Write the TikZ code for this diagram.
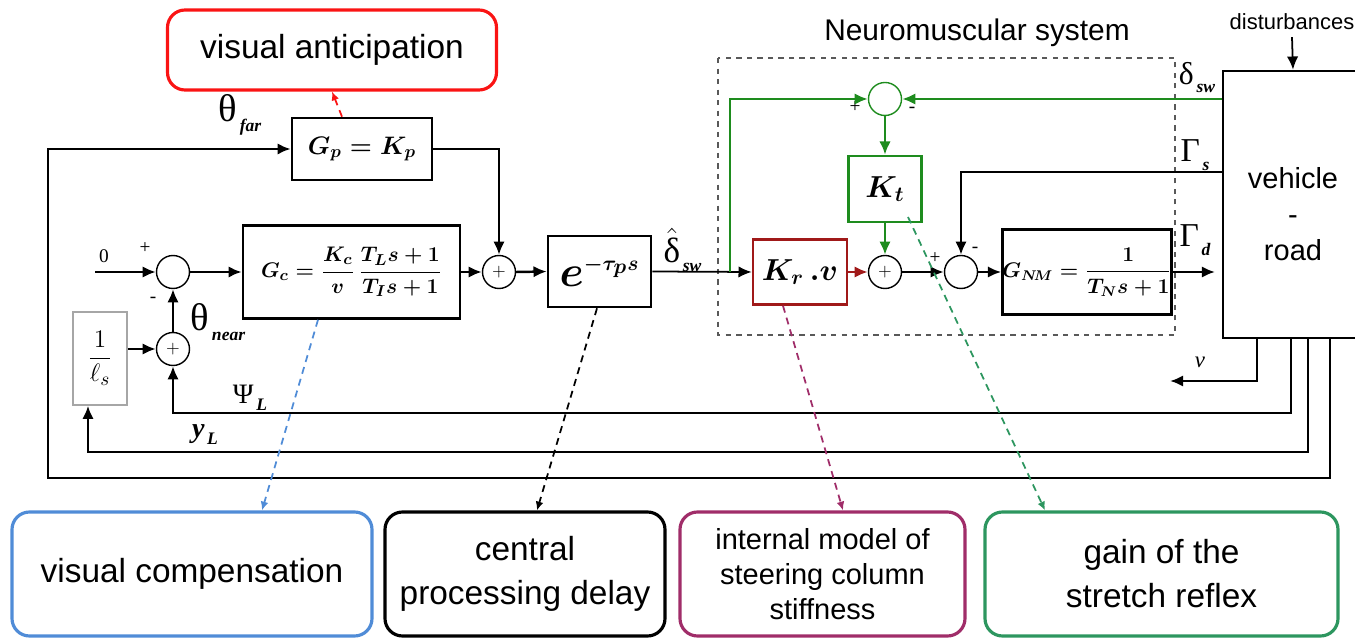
\documentclass[tikz,border=0pt]{standalone}
\usepackage{amsmath}
\usepackage{fontspec}
\setmainfont{Liberation Serif}
\setsansfont{Liberation Sans}
\usetikzlibrary{arrows.meta}

\definecolor{nmgreen}{RGB}{30,140,30}
\definecolor{krred}{RGB}{160,25,25}
\definecolor{viewred}{RGB}{250,20,20}
\definecolor{compblue}{RGB}{80,140,215}
\definecolor{modpurple}{RGB}{160,45,105}
\definecolor{reflexgreen}{RGB}{45,150,95}

\newcommand{\sgl}[3]{\fontsize{#3}{#3}\selectfont #1\kern1.5pt\raisebox{-0.55ex}{\fontsize{10}{10}\selectfont\bfseries\itshape #2}}

\begin{document}
\begin{tikzpicture}[>={Latex[length=7.5pt,width=6.5pt]}, line width=1.4pt,
    block/.style={draw, line width=1.5pt, inner sep=0pt},
    sumnode/.style={draw, circle, line width=0.8pt, minimum size=0.66cm, inner sep=0pt, font=\fontsize{10}{10}\selectfont},
    note/.style={draw, rounded corners=0.35cm, line width=1.8pt, align=center, inner sep=0pt, minimum height=2.48cm, font=\sffamily\fontsize{19}{25}\selectfont},
    sgn/.style={inner sep=0pt, font=\fontsize{11}{11}\selectfont},
    sig/.style={inner sep=1pt},
    hint/.style={-{Latex[length=5pt,width=4.5pt]}, line width=1pt, dash pattern=on 4pt off 3pt}]
      \useasboundingbox (0,0) rectangle (27.1,-12.8);

      \node[note, draw=viewred, minimum width=6.58cm, minimum height=1.6cm] (antic) at (6.64,-1.0) {visual anticipation};
      \node[block, minimum width=2.8cm, minimum height=1.24cm, font=\fontsize{14}{14}\selectfont] (gp) at (7.24,-2.98) {$\boldsymbol{G_p = K_p}$};
      \node[sig] (thfar) at (4.8,-2.3) {\sgl{θ}{far}{22}};

      \node[sgn] (zero) at (2.08,-5.12) {0};
      \node[sgn] (pin) at (2.9,-4.96) {+};
      \node[sgn] (mnear) at (3.06,-6.0) {-};
      \node[sumnode] (sumin) at (3.46,-5.44) {};
      \node[block, minimum width=4.34cm, minimum height=1.86cm, font=\fontsize{13}{13}\selectfont] (ge) at (7.03,-5.44) {$\boldsymbol{G_c = \dfrac{K_c}{v}\,\dfrac{T_L s + 1}{T_I s + 1}}$};
      \node[sumnode] (sumff) at (9.98,-5.44) {$+$};
      \node[block, minimum width=2.06cm, minimum height=1.42cm, font=\fontsize{26}{26}\selectfont] (tdelay) at (11.99,-5.43) {$\boldsymbol{e^{\scriptscriptstyle-\tau_p s}}$};
      \node[sig] (dhat) at (13.65,-5.0) {\sgl{$\hat{\text{δ}}$}{sw}{20}};

      \node[sumnode] (sumnear) at (3.46,-6.98) {$+$};
      \node[sig] (thnear) at (4.36,-6.44) {\sgl{θ}{near}{22}};
      \node[block, draw=gray!70, line width=0.9pt, minimum width=1.08cm, minimum height=1.86cm, font=\fontsize{15}{15}\selectfont] (invl) at (2.0,-7.17) {$\dfrac{1}{\ell_s}$};
      \node[sig] (psil) at (5.0,-7.96) {\sgl{Ψ}{L}{16}};
      \node[sig] (yl) at (4.1,-8.7) {\sgl{\textbf{\textit{y}}}{L}{16}};

      \draw[dashed, line width=1pt, gray!70!black] (14.36,-1.16) rectangle (23.5,-6.7);
      \node[font=\sffamily\fontsize{17}{17}\selectfont] (nmtitle) at (19.54,-0.66) {Neuromuscular system};
      \node[sumnode, draw=nmgreen] (sumstr) at (17.7,-1.98) {};
      \node[sgn] (pstr) at (17.1,-2.14) {+};
      \node[sgn] (mstr) at (18.24,-2.2) {-};
      \node[block, draw=nmgreen, minimum width=1.46cm, minimum height=1.32cm, font=\fontsize{17}{17}\selectfont] (kt) at (17.7,-3.78) {$\boldsymbol{K_t}$};
      \node[block, draw=krred, minimum width=1.88cm, minimum height=1.3cm, font=\fontsize{17}{17}\selectfont] (krv) at (16.0,-5.44) {$\boldsymbol{K_r\,.v}$};
      \node[sumnode] (sumtq) at (17.7,-5.44) {$+$};
      \node[sumnode] (sumcol) at (19.22,-5.44) {};
      \node[sgn] (pcol) at (18.7,-5.16) {+};
      \node[sgn] (mcol) at (19.5,-5.0) {-};
      \node[block, minimum width=3.24cm, minimum height=1.7cm, font=\fontsize{12}{12}\selectfont] (gnm) at (21.74,-5.44) {$\boldsymbol{G_{N\!M} = \dfrac{1}{T_N s + 1}}$};

      \node[block, minimum width=2.8cm, minimum height=5.34cm] (veh) at (25.86,-4.09) {};
      \node[align=center, font=\sffamily\fontsize{16.5}{20.5}\selectfont] (vehtxt) at ([yshift=-0.2cm]veh.center) {vehicle\\-\\road};
      \node[font=\sffamily\fontsize{12.5}{12.5}\selectfont] (dist) at (25.84,-0.44) {disturbances};
      \node[sig] (dsw) at (23.94,-1.56) {\sgl{δ}{sw}{18}};
      \node[sig] (gams) at (23.9,-3.1) {\sgl{Γ}{s}{19}};
      \node[sig] (gamd) at (23.9,-4.8) {\sgl{Γ}{d}{19}};
      \node[sig, font=\fontsize{13}{13}\selectfont] (vel) at (24.0,-7.24) {\textit{v}};

      \node[note, draw=compblue, minimum width=7.2cm] (comp) at (3.84,-11.48) {visual compensation};
      \node[note, draw=black, minimum width=5.6cm] (cpd) at (10.5,-11.48) {central\\processing delay};
      \node[note, draw=modpurple, minimum width=5.7cm, font=\sffamily\fontsize{16.5}{20}\selectfont] (intmod) at (16.45,-11.48) {internal model of\\steering column\\stiffness};
      \node[note, draw=reflexgreen, minimum width=7.06cm] (gain) at (23.23,-11.48) {gain of the\\stretch reflex};

      \coordinate (in0) at (1.9,-5.44);
      \coordinate (tap) at (14.6,-5.44);
      \coordinate (gs) at (24.46,-3.44);
      \coordinate (gd) at (24.3,-5.44);
      \coordinate (vout) at (25.14,-6.76);
      \coordinate (vend) at (23.4,-7.62);
      \coordinate (psiout) at (25.82,-6.76);
      \coordinate (ylout) at (26.16,-6.76);
      \coordinate (farout) at (26.6,-6.76);

      \draw[->] (in0) -- (sumin.west);
      \draw[->] (sumin.east) -- (ge.west);
      \draw[->] (ge.east) -- (sumff.west);
      \draw[->] (gp.east) -| (sumff.north);
      \draw[->] (sumff.east) -- (tdelay.west);
      \draw[->, line width=1pt] (tdelay.east) -- (krv.west);
      \draw[->] (invl.east |- sumnear.west) -- (sumnear.west);
      \draw[->] (sumnear.north) -- (sumin.south);

      \draw[->, nmgreen] (tap) |- (sumstr.west);
      \draw[->, nmgreen] (sumstr -| veh.west) -- (sumstr.east);
      \draw[->, nmgreen] (sumstr.south) -- (kt.north);
      \draw[->, nmgreen] (kt.south) -- (sumtq.north);
      \draw[->, krred] (krv.east) -- (sumtq.west);
      \draw[->] (sumtq.east) -- (sumcol.west);
      \draw[->] (gs) -| (sumcol.north);
      \draw[->] (sumcol.east) -- (gnm.west);
      \draw[->] (gnm.east) -- (gd);
      \draw[->, line width=1pt] (dist.south) -- (veh.north);

      \draw[->] (vout) |- (vend);
      \draw[->] (psiout) -- (25.82,-8.26) -| (sumnear.south);
      \draw[->] (ylout) -- (26.16,-9.04) -| ([xshift=-0.24cm]invl.south);
      \draw[->] (farout) -- (26.6,-9.56) -- (0.96,-9.56) |- (gp.west);

      \draw[hint, viewred] ([xshift=-0.4cm]gp.north) -- (antic.south);
      \draw[hint, compblue] ([xshift=-0.67cm]ge.south) -- ([xshift=1.4cm]comp.north);
      \draw[hint, black] ([xshift=-0.05cm]tdelay.south) -- ([xshift=0.24cm]cpd.north);
      \draw[hint, modpurple] ([xshift=-0.34cm]krv.south) -- ([xshift=0.41cm]intmod.north);
      \draw[hint, reflexgreen] (18.16,-4.34) -- ([xshift=-2.33cm]gain.north);
    \end{tikzpicture}
\end{document}
